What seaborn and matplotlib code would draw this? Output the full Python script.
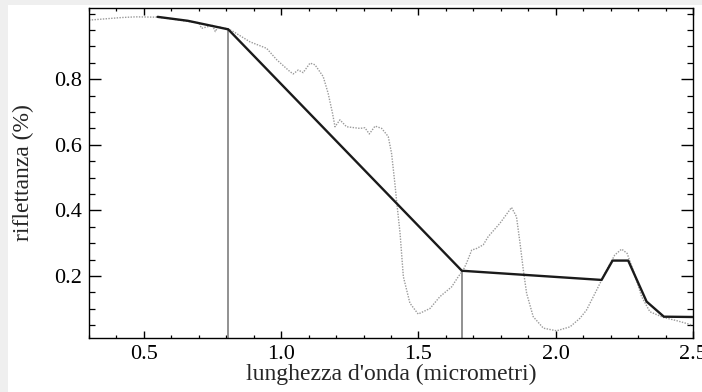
import matplotlib
matplotlib.use("Agg")
import matplotlib.pyplot as plt
import seaborn as sns
import pandas as pd
from matplotlib.patches import Rectangle
from matplotlib.ticker import MultipleLocator

# Reflectance spectrum (wavelength in micrometres, reflectance)
spec_wl = [0.30, 0.36, 0.42, 0.47, 0.55, 0.60, 0.66, 0.70, 0.71, 0.75, 0.76, 0.77, 0.81,
           0.826, 0.886, 0.947, 0.984, 1.032, 1.044, 1.062, 1.080, 1.105, 1.123, 1.153,
           1.171, 1.187, 1.196, 1.214, 1.238, 1.287, 1.305, 1.321, 1.342, 1.366, 1.390,
           1.402, 1.414, 1.420, 1.433, 1.445, 1.469, 1.499, 1.542, 1.578, 1.621, 1.645,
           1.663, 1.675, 1.694, 1.712, 1.736, 1.754, 1.797, 1.839, 1.857, 1.870, 1.882,
           1.894, 1.918, 1.955, 2.003, 2.052, 2.088, 2.112, 2.149, 2.185, 2.215, 2.240,
           2.260, 2.282, 2.313, 2.343, 2.391, 2.440, 2.495]
spec_refl = [0.980, 0.984, 0.988, 0.990, 0.989, 0.984, 0.976, 0.972, 0.955, 0.964, 0.945, 0.960, 0.952,
             0.945, 0.914, 0.894, 0.859, 0.823, 0.816, 0.828, 0.820, 0.849, 0.844, 0.808,
             0.757, 0.696, 0.655, 0.676, 0.655, 0.650, 0.652, 0.633, 0.657, 0.650, 0.625,
             0.574, 0.483, 0.432, 0.330, 0.198, 0.117, 0.084, 0.101, 0.137, 0.167, 0.198,
             0.218, 0.239, 0.279, 0.284, 0.295, 0.320, 0.361, 0.409, 0.381, 0.300, 0.218,
             0.147, 0.076, 0.041, 0.033, 0.045, 0.071, 0.096, 0.157, 0.218, 0.264, 0.282,
             0.269, 0.218, 0.137, 0.091, 0.074, 0.064, 0.051]

# Continuum (convex hull) vertices
hull_wl = [0.55, 0.66, 0.807, 1.658, 2.167, 2.207, 2.264, 2.331, 2.394, 2.50]
hull_refl = [0.990, 0.978, 0.952, 0.216, 0.188, 0.247, 0.247, 0.122, 0.076, 0.075]

# Band centres marked with vertical lines
band_wl = [0.807, 1.658]
band_top = [0.952, 0.216]

x_ticks = [0.5, 1.0, 1.5, 2.0, 2.5]
y_ticks = [0.2, 0.4, 0.6, 0.8]

sns.set_style("ticks")
plt.rcParams["font.family"] = ["Liberation Serif", "DejaVu Serif"]

fig = plt.figure(figsize=(7.02, 3.92), dpi=100)
fig.patch.set_facecolor("#efefef")
fig.add_artist(Rectangle((8 / 702, 0), 1, 1 - 5 / 392, transform=fig.transFigure,
                         facecolor="white", edgecolor="none", zorder=-10))
ax = fig.add_axes([89 / 702, 1 - 338 / 392, (693 - 89) / 702, (338 - 8) / 392])
ax.set_facecolor("white")

spec = pd.DataFrame({"wl": spec_wl, "refl": spec_refl})
hull = pd.DataFrame({"wl": hull_wl, "refl": hull_refl})

y0 = 0.011
for xb, yt in zip(band_wl, band_top):
    ax.plot([xb, xb], [y0, yt], color="#909090", lw=1.4, zorder=1)

sns.lineplot(data=spec, x="wl", y="refl", ax=ax, color="#9a9a9a", lw=1.0,
             linestyle=(0, (1, 1)), sort=False, estimator=None, zorder=2)
sns.lineplot(data=hull, x="wl", y="refl", ax=ax, color="#1a1a1a", lw=1.7,
             sort=False, estimator=None, zorder=3)

ax.set_xlim(0.3, 2.5)
ax.set_ylim(y0, 1.017)
ax.set_xticks(x_ticks)
ax.set_xticklabels([f"{v:.1f}" for v in x_ticks])
ax.set_yticks(y_ticks)
ax.set_yticklabels([f"{v:.1f}" for v in y_ticks])
ax.xaxis.set_minor_locator(MultipleLocator(0.1))
ax.yaxis.set_minor_locator(MultipleLocator(0.05))

ax.tick_params(axis="both", which="both", direction="in", top=True, right=True,
               colors="black", labelsize=16)
ax.tick_params(axis="x", which="major", length=4.8, width=1.0, pad=5)
ax.tick_params(axis="x", which="minor", length=2.4, width=0.9)
ax.tick_params(axis="y", which="major", length=8.6, width=1.0, pad=5)
ax.tick_params(axis="y", which="minor", length=4.3, width=0.9)

for s in ax.spines.values():
    s.set_color("black")
    s.set_linewidth(1.0)

ax.set_xlabel("lunghezza d'onda (micrometri)", fontsize=17, va="top")
ax.xaxis.set_label_coords(0.5, -0.078)
ax.set_ylabel("riflettanza (%)", fontsize=17, va="center")
ax.yaxis.set_label_coords(-0.108, 0.5)

fig.savefig("out.png", dpi=100)
